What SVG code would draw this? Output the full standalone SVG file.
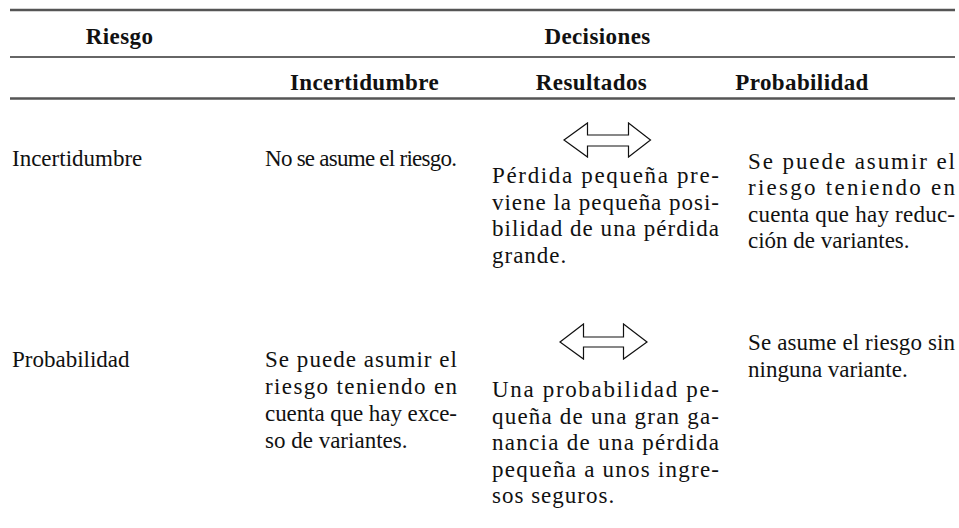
<svg xmlns="http://www.w3.org/2000/svg" width="959" height="528" viewBox="0 0 959 528">
<style>
.rule{stroke:#555;stroke-width:2.5;fill:none}
.rule2{stroke:#333;stroke-width:1.6;fill:none}
.h{font-family:"Liberation Serif","Times New Roman",serif;font-size:23px;font-weight:bold;fill:#111;letter-spacing:0.4px}
.t{font-family:"Liberation Serif","Times New Roman",serif;font-size:23px;fill:#111}
.sp{letter-spacing:1px}
.arrow{fill:#fff;stroke:#111;stroke-width:1.2;stroke-linejoin:miter}
</style>
<rect width="959" height="528" fill="#fff"/>
<g id="rules">
<line class="rule" x1="10" y1="10" x2="955" y2="10"/>
<line class="rule2" x1="10" y1="57" x2="955" y2="57"/>
<line class="rule" x1="10" y1="98.5" x2="955" y2="98.5"/>
</g>
<g id="header">
<text class="h" x="119.5" y="44" text-anchor="middle">Riesgo</text>
<text class="h" x="597.5" y="44" text-anchor="middle">Decisiones</text>
<text class="h" x="364.5" y="90" text-anchor="middle">Incertidumbre</text>
<text class="h" x="591.5" y="90" text-anchor="middle">Resultados</text>
<text class="h" x="802" y="90" text-anchor="middle">Probabilidad</text>
</g>
<g id="row1-label"><text class="t" x="12" y="166">Incertidumbre</text></g>
<g id="row1-incertidumbre"><text class="t" x="265" y="166" textLength="192" lengthAdjust="spacing">No se asume el riesgo.</text></g>
<g id="row1-resultados">
<text class="t" x="492" y="183" textLength="227" lengthAdjust="spacing">Pérdida pequeña pre-</text>
<text class="t" x="492" y="209.5" textLength="227" lengthAdjust="spacing">viene la pequeña posi-</text>
<text class="t" x="492" y="236" textLength="227" lengthAdjust="spacing">bilidad de una pérdida</text>
<text class="t sp" x="492" y="262.5">grande.</text>
</g>
<g id="row1-probabilidad">
<text class="t" x="748" y="168.5" textLength="207" lengthAdjust="spacing">Se puede asumir el</text>
<text class="t" x="748" y="195" textLength="207" lengthAdjust="spacing">riesgo teniendo en</text>
<text class="t" x="748" y="221.5" textLength="207" lengthAdjust="spacing">cuenta que hay reduc-</text>
<text class="t" x="748" y="248">ción de variantes.</text>
</g>
<g id="row2-label"><text class="t" x="12" y="367">Probabilidad</text></g>
<g id="row2-incertidumbre">
<text class="t" x="265" y="367" textLength="192" lengthAdjust="spacing">Se puede asumir el</text>
<text class="t" x="265" y="394" textLength="192" lengthAdjust="spacing">riesgo teniendo en</text>
<text class="t" x="265" y="421" textLength="192" lengthAdjust="spacing">cuenta que hay exce-</text>
<text class="t" x="265" y="448">so de variantes.</text>
</g>
<g id="row2-resultados">
<text class="t" x="492" y="397" textLength="227" lengthAdjust="spacing">Una probabilidad pe-</text>
<text class="t" x="492" y="423.5" textLength="227" lengthAdjust="spacing">queña de una gran ga-</text>
<text class="t" x="492" y="450" textLength="227" lengthAdjust="spacing">nancia de una pérdida</text>
<text class="t" x="492" y="476.5" textLength="227" lengthAdjust="spacing">pequeña a unos ingre-</text>
<text class="t sp" x="492" y="503">sos seguros.</text>
</g>
<g id="row2-probabilidad">
<text class="t" x="748" y="350" textLength="207" lengthAdjust="spacing">Se asume el riesgo sin</text>
<text class="t" x="748" y="376.5">ninguna variante.</text>
</g>
<g id="connectors">
<polygon class="arrow" points="564,140 587.5,123 587.5,135 628.5,135 628.5,123 650.5,140 628.5,157 628.5,146 587.5,146 587.5,157"/>
<polygon class="arrow" points="560,342 583.5,324 583.5,337 623.5,337 623.5,324 647,342 623.5,359 623.5,347 583.5,347 583.5,359"/>
</g>
</svg>
